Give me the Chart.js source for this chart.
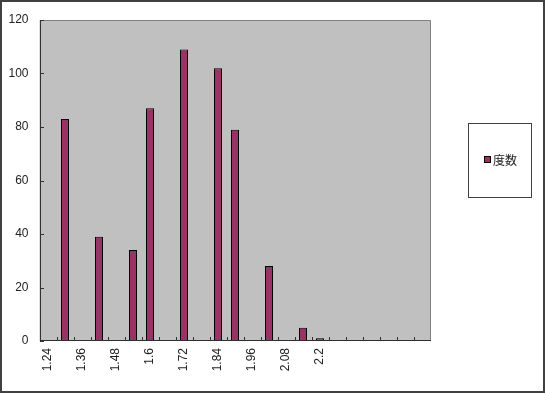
<!DOCTYPE html>
<html>
<head>
<meta charset="utf-8">
<script src="https://cdn.jsdelivr.net/npm/chart.js@4/dist/chart.umd.min.js"></script>
<style>
  html, body { margin: 0; padding: 0; background: #fff; }
  canvas { display: block; }
</style>
</head>
<body>
<canvas id="hist" width="545" height="393"></canvas>
<script>
// Datas
const categories = ['1.24', '1.3', '1.36', '1.42', '1.48', '1.54', '1.6', '1.66', '1.72', '1.78',
  '1.84', '1.9', '1.96', '2.02', '2.08', '2.14', '2.2', '', '', '', '', '', ''];
const freq = [0, 83, 0, 39, 0, 34, 87, 0, 109, 0, 102, 79, 0, 28, 0, 5, 1, 0, 0, 0, 0, 0, 0];
const seriesName = '度数';
const yTicks = [0, 20, 40, 60, 80, 100, 120];

const labelFont = { family: "'Liberation Sans', Arial, sans-serif", size: 12 };

// plot background, borders, inside tick marks, legend box, outer frame
const excelLook = {
  id: 'excelLook',
  beforeDatasetsDraw(chart) {
    const { ctx, chartArea: a } = chart;
    ctx.save();
    ctx.fillStyle = '#c0c0c0';
    ctx.fillRect(a.left, a.top, a.right - a.left, a.bottom - a.top);
    ctx.restore();
  },
  afterDraw(chart) {
    const { ctx, chartArea: a } = chart;
    const x = chart.scales.x, y = chart.scales.y;
    const L = Math.round(a.left), R = Math.round(a.right);
    ctx.save();
    // plot border top/right
    ctx.strokeStyle = '#808080';
    ctx.lineWidth = 1;
    ctx.beginPath();
    ctx.moveTo(L, a.top + 0.5);
    ctx.lineTo(R - 0.5, a.top + 0.5);
    ctx.lineTo(R - 0.5, a.bottom);
    ctx.stroke();
    // axes
    ctx.strokeStyle = '#303030';
    ctx.beginPath();
    ctx.moveTo(L + 0.5, a.top);
    ctx.lineTo(L + 0.5, a.bottom);
    ctx.moveTo(L, a.bottom - 0.5);
    ctx.lineTo(R, a.bottom - 0.5);
    // y tick marks (inside)
    yTicks.forEach(v => {
      const py = Math.round(y.getPixelForValue(v)) + 0.5;
      ctx.moveTo(L, py);
      ctx.lineTo(L + 4, py);
    });
    // x tick marks at category boundaries (inside)
    const n = categories.length;
    const w = (x.right - x.left) / n;
    for (let i = 1; i < n; i++) {
      const px = Math.round(x.left + i * w) + 0.5;
      ctx.moveTo(px, a.bottom);
      ctx.lineTo(px, a.bottom - 4);
    }
    ctx.stroke();

    // legend box
    const ds = chart.data.datasets[0];
    ctx.fillStyle = '#fff';
    ctx.fillRect(468, 123, 64, 74);
    ctx.strokeStyle = '#404040';
    ctx.strokeRect(468.5, 123.5, 63, 74);
    ctx.fillStyle = ds.backgroundColor;
    ctx.fillRect(485, 157, 5, 5);
    ctx.strokeStyle = '#000';
    ctx.strokeRect(484.5, 156.5, 6, 6);
    ctx.fillStyle = '#222';
    ctx.font = "12px 'Noto Sans CJK KR', sans-serif";
    ctx.textBaseline = 'middle';
    ctx.fillText(ds.label, 493, 160);

    // outer frame
    ctx.strokeStyle = '#404040';
    ctx.lineWidth = 2;
    ctx.strokeRect(1, 1, 543, 391);
    ctx.restore();
  }
};

const data = {
  labels: categories,
  datasets: [{
    label: seriesName,
    data: freq,
    backgroundColor: '#993366',
    borderColor: '#000000',
    borderWidth: c => (c.raw > 0 ? 1 : 0),
    borderSkipped: 'bottom',
    barPercentage: 1,
    categoryPercentage: 8 / 17
  }]
};

const options = {
  responsive: false,
  animation: false,
  layout: { padding: { left: 0.5, top: 20, right: 114.5, bottom: 0 } },
  scales: {
    x: {
      afterFit(scale) { scale.height = 52; },
      grid: { display: false, drawTicks: false },
      border: { display: false },
      ticks: {
        autoSkip: false,
        maxRotation: 90,
        minRotation: 90,
        padding: 7,
        color: '#222',
        font: labelFont,
        callback: function (v, i) {
          return i % 2 === 0 ? this.getLabelForValue(v) : '';
        }
      }
    },
    y: {
      min: 0,
      max: 120,
      afterFit(scale) { scale.width = 39; },
      grid: { display: false, drawTicks: false },
      border: { display: false },
      ticks: {
        stepSize: 20,
        padding: 11,
        color: '#222',
        font: labelFont
      }
    }
  },
  plugins: {
    legend: { display: false },
    tooltip: { enabled: false }
  }
};

// Initialisation
const ctx = document.getElementById('hist').getContext('2d');
const histChart = new Chart(ctx, {
  type: 'bar',
  data: data,
  options: options,
  plugins: [excelLook]
});
</script>
</body>
</html>
